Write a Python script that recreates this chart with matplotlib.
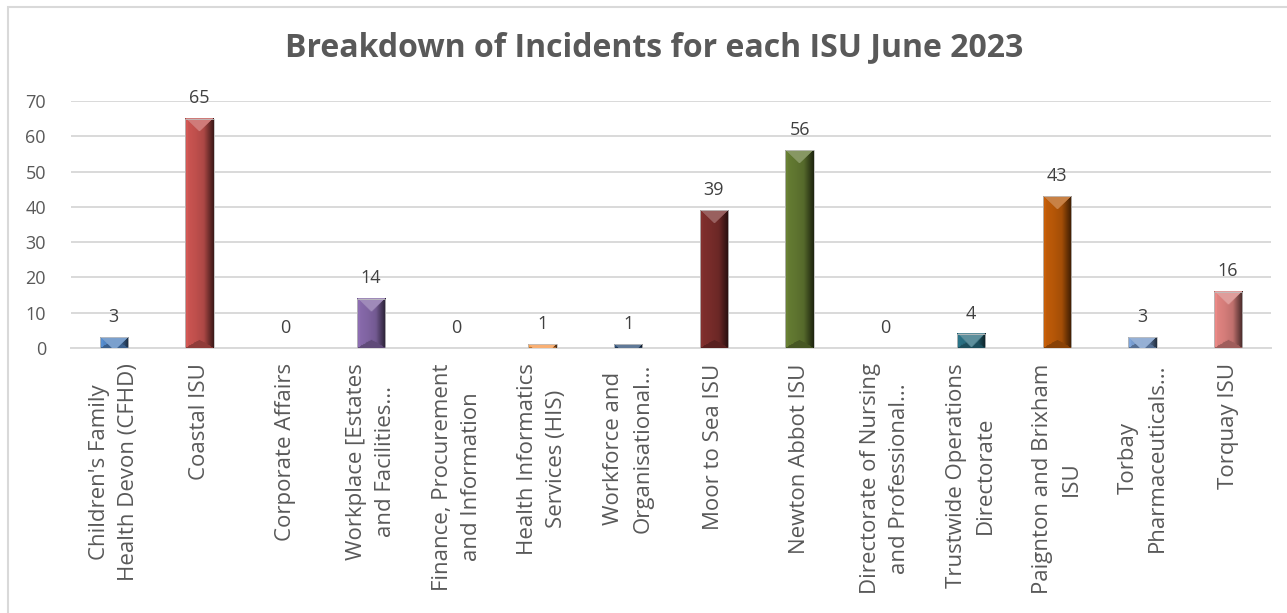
import numpy as np
import matplotlib
matplotlib.use("Agg")
import matplotlib.pyplot as plt
from matplotlib.colors import to_rgb
from matplotlib.patches import Rectangle

categories = [
    "Children's Family\nHealth Devon (CFHD)", "Coastal ISU", "Corporate Affairs",
    "Workplace [Estates\nand Facilities...", "Finance, Procurement\nand Information",
    "Health Informatics\nServices (HIS)", "Workforce and\nOrganisational...",
    "Moor to Sea ISU", "Newton Abbot ISU", "Directorate of Nursing\nand Professional...",
    "Trustwide Operations\nDirectorate", "Paignton and Brixham\nISU",
    "Torbay\nPharmaceuticals...", "Torquay ISU",
]
incidents = [3, 65, 0, 14, 0, 1, 1, 39, 56, 0, 4, 43, 3, 16]
colors = ["#4F81BD", "#C0504D", "#9BBB59", "#8064A2", "#4BACC6", "#F79646", "#2C4D75",
          "#772C2A", "#5F7530", "#4D3B62", "#276A7C", "#B65708", "#7396C7", "#D57D7A"]
yticks = [0, 10, 20, 30, 40, 50, 60, 70]

plt.rcParams["font.family"] = ["Open Sans", "DejaVu Sans"]
GREY = "#595959"

fig = plt.figure(figsize=(12.87, 6.13), dpi=100)
ax = fig.add_axes([71 / 1287, 1 - 348 / 613, 1200 / 1287, 247 / 613])
n = len(incidents)
ax.set_xlim(-0.5, n - 0.5)
ax.set_ylim(0, 70)

# chart frame (only top/left edges fall inside the image)
fig.patches.append(Rectangle((8 / 1287, -0.1), 1.2, 1 - 7 / 613 + 0.1, transform=fig.transFigure,
                             fill=False, ec="#D9D9D9", lw=1.5))

ax.set_yticks(yticks)
ax.yaxis.grid(True, color="#D9D9D9", lw=1.4)
ax.set_axisbelow(True)
for s in ["top", "right", "left"]:
    ax.spines[s].set_visible(False)
ax.spines["bottom"].set_color("#D9D9D9")
ax.spines["bottom"].set_linewidth(1.4)
ax.tick_params(axis="y", length=0, pad=18, labelsize=13, labelcolor=GREY)
ax.tick_params(axis="x", length=0, pad=11)
ax.set_xticks(range(n))
ax.set_xticklabels(categories, rotation=90, ha="center", va="top", multialignment="center",
                   fontsize=16, color=GREY, linespacing=1.5)

# bevelled bar look: horizontal shading + light top face + darker bottom face
width = 0.33
px_per_x = 1200 / n
px_per_y = 247 / 70
for i, (v, c) in enumerate(zip(incidents, colors)):
    if v <= 0:
        ax.text(i, 3.2, "0", ha="center", va="bottom", fontsize=13, color="#404040")
        continue
    wpx = int(round(width * px_per_x))
    hpx = max(2, int(round(v * px_per_y)))
    u = (np.arange(wpx) + 0.5) / wpx
    prof = np.interp(u, [0, 0.06, 0.12, 0.35, 0.65, 0.85, 1.0], [0.75, 1.15, 1.05, 1.0, 0.9, 0.55, 0.3])
    base = np.array(to_rgb(c))
    img = np.ones((hpx, wpx, 3)) * base
    img *= prof[None, :, None]
    xs = np.arange(wpx) + 0.5
    side = np.minimum(xs, wpx - xs)
    ytop = np.arange(hpx)[:, None] + 0.5
    ybot = hpx - ytop
    bevel = wpx * 0.45
    top = (ytop < side[None, :]) & (ytop < bevel)
    bot = (ybot < side[None, :] * 0.6) & (ybot < bevel) & ~top
    img[top] = base * 0.75 + 0.25
    img[bot] = base * 0.75
    img = np.clip(img, 0, 1)
    ax.imshow(img, extent=[i - width / 2, i + width / 2, 0, v], aspect="auto",
              interpolation="bilinear", zorder=3)
    ax.add_patch(Rectangle((i - width / 2, 0), width, v, fill=False, ec="#BFBFBF", lw=0.6, zorder=4))
    ax.text(i, v + 3.2, str(v), ha="center", va="bottom", fontsize=13, color="#404040")

ax.set_xlim(-0.5, n - 0.5)
ax.set_ylim(0, 70)

fig.text(654 / 1287, 1 - 48 / 613, "Breakdown of Incidents for each ISU June 2023", ha="center",
         va="center", fontsize=23, fontweight="bold", color=GREY)

fig.savefig("out.png", dpi=100)
